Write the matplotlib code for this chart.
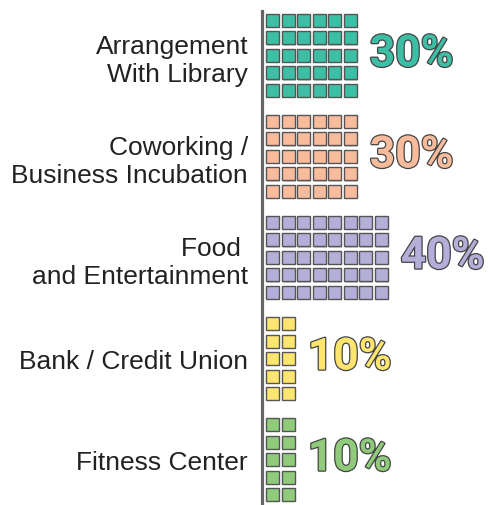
import matplotlib
matplotlib.use('Agg')
import matplotlib.pyplot as plt
import matplotlib.patheffects as pe
import numpy as np

# Data
categories = ['Arrangement\nWith Library', 'Coworking /\nBusiness Incubation',
              'Food \nand Entertainment', 'Bank / Credit Union', 'Fitness Center']
percents = [30, 30, 40, 10, 10]
colors = ['#3cbfa4', '#f8bc9c', '#b3afd9', '#fde56e', '#8fcb7b']
n_rows = 5

fig = plt.figure(figsize=(4.89, 5.06), dpi=100)
ax = fig.add_axes([262 / 489, 0, 1 - 262 / 489, 496 / 506])

row_pitch = 17.5 / 101
sq_h = 13 / 101
sq_w = 13 / 15.5
first_top = -0.411

for i, (pct, col) in enumerate(zip(percents, colors)):
    n_cols = pct // n_rows
    xs = 0.26 + np.arange(n_cols)
    for r in range(n_rows):
        bars = ax.bar(xs, sq_h, width=sq_w, bottom=i + first_top + r * row_pitch,
                      align='edge', color=col, edgecolor='#555555', linewidth=1.0)
        for b in bars:
            b.set_path_effects([pe.SimplePatchShadow(offset=(1, -1), alpha=0.25),
                                pe.Normal()])
    ax.text(n_cols + 0.95, i - 0.01, f'{pct}%', ha='left', va='center',
            fontsize=32, fontweight='bold', family='Roboto', color=col,
            path_effects=[pe.Stroke(linewidth=1.8, foreground='#444444'), pe.Normal()])

ax.set_xlim(0, (489 - 262) / 15.5)
ax.set_ylim(4.45, -0.46)
ax.set_yticks(range(len(categories)))
ax.set_yticklabels(categories, fontsize=19, family='Liberation Sans', color='#222222')
ax.tick_params(axis='y', length=0, pad=10)
ax.set_xticks([])
for s in ['top', 'right', 'bottom']:
    ax.spines[s].set_visible(False)
ax.spines['left'].set_color('#666666')
ax.spines['left'].set_linewidth(2.3)
ax.spines['left'].set_bounds(-0.44, 4.45)

fig.savefig('out.png', dpi=100, facecolor='white')
